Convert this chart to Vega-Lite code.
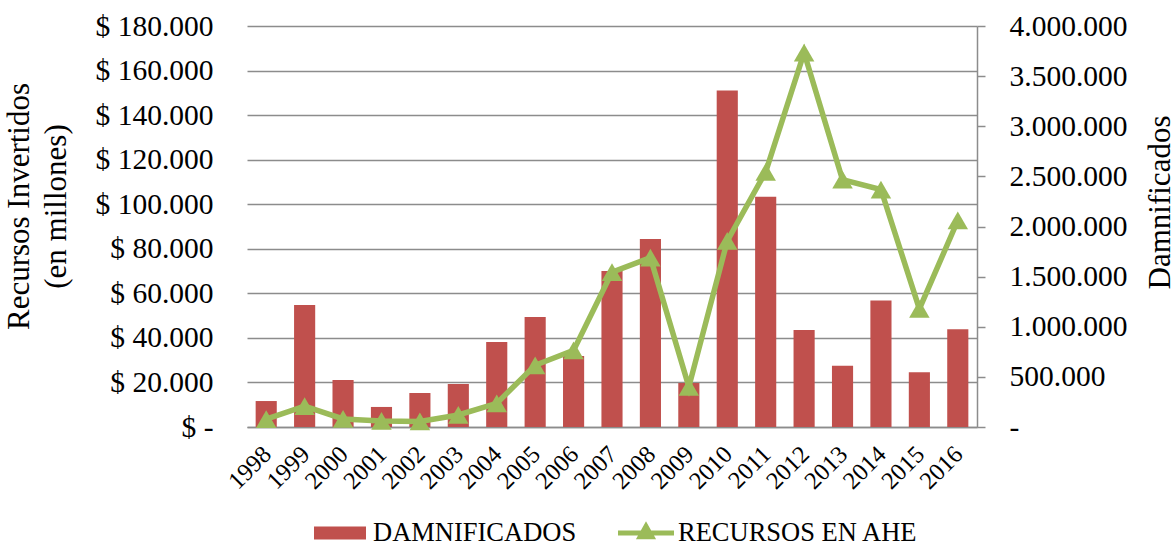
{
  "$schema": "https://vega.github.io/schema/vega-lite/v6.json",
  "width": 730,
  "height": 401,
  "autosize": {"type": "none"},
  "padding": {"left": 247, "top": 26, "right": 199, "bottom": 119},
  "background": "white",
  "config": {
    "view": {"stroke": null},
    "font": "Liberation Serif",
    "axis": {"labelFont": "Liberation Serif", "titleFont": "Liberation Serif", "labelColor": "black", "titleColor": "black", "titleFontWeight": "normal"},
    "legend": {"labelFont": "Liberation Serif", "labelColor": "black", "labelLimit": 0}
  },
  "data": {
    "values": [
      {"year": "1998", "damnificados": 259000, "recursos": 3500},
      {"year": "1999", "damnificados": 1217000, "recursos": 9400},
      {"year": "2000", "damnificados": 469000, "recursos": 3600},
      {"year": "2001", "damnificados": 200000, "recursos": 2700},
      {"year": "2002", "damnificados": 339000, "recursos": 2500},
      {"year": "2003", "damnificados": 429000, "recursos": 5400},
      {"year": "2004", "damnificados": 848000, "recursos": 10600},
      {"year": "2005", "damnificados": 1097000, "recursos": 27700},
      {"year": "2006", "damnificados": 708000, "recursos": 34400},
      {"year": "2007", "damnificados": 1556000, "recursos": 69500},
      {"year": "2008", "damnificados": 1875000, "recursos": 76000},
      {"year": "2009", "damnificados": 439000, "recursos": 18000},
      {"year": "2010", "damnificados": 3356000, "recursos": 83500},
      {"year": "2011", "damnificados": 2298000, "recursos": 114500},
      {"year": "2012", "damnificados": 968000, "recursos": 168000},
      {"year": "2013", "damnificados": 612000, "recursos": 111000},
      {"year": "2014", "damnificados": 1261000, "recursos": 106600},
      {"year": "2015", "damnificados": 546000, "recursos": 53000},
      {"year": "2016", "damnificados": 975000, "recursos": 92700}
    ]
  },
  "encoding": {
    "x": {
      "field": "year",
      "type": "ordinal",
      "title": null,
      "scale": {"paddingInner": 0.45, "paddingOuter": 0.225},
      "axis": {
        "labelAngle": -45,
        "labelAlign": "right",
        "labelBaseline": "top",
        "labelFontSize": 24.5,
        "labelPadding": 15,
        "labelOffset": -7,
        "ticks": false,
        "domainColor": "#8c8c8c",
        "domainWidth": 1.5,
        "grid": false
      }
    }
  },
  "layer": [
    {
      "mark": {"type": "bar", "color": "#C0504D"},
      "encoding": {
        "y": {
          "field": "damnificados",
          "type": "quantitative",
          "scale": {"domain": [0, 4000000]},
          "title": "Damnificados",
          "axis": {
            "orient": "right",
            "values": [0, 500000, 1000000, 1500000, 2000000, 2500000, 3000000, 3500000, 4000000],
            "labelExpr": "datum.value == 0 ? '-' : replace(format(datum.value, ','), regexp(',', 'g'), '.')",
            "labelFontSize": 29.5,
            "labelBaseline": "middle",
            "labelPadding": 24,
            "tickSize": 8,
            "tickColor": "#8c8c8c",
            "tickWidth": 1.5,
            "domainColor": "#8c8c8c",
            "domainWidth": 1.5,
            "grid": false,
            "titleFontSize": 31,
            "titleAngle": 270,
            "titleBaseline": "middle",
            "titleAlign": "center",
            "titleX": 183,
            "titleY": 176
          }
        },
        "fill": {
          "datum": "DAMNIFICADOS",
          "type": "nominal",
          "scale": {"range": ["#C0504D"]},
          "legend": {
            "orient": "none",
            "legendX": 67,
            "legendY": 481,
            "title": null,
            "symbolType": "M-1,-0.25H1V0.25H-1Z",
            "symbolSize": 2704,
            "symbolStrokeWidth": 0,
            "labelFontSize": 26.5,
            "labelOffset": 7,
            "labelBaseline": "middle"
          }
        }
      }
    },
    {
      "mark": {"type": "line", "strokeWidth": 5.5, "color": "#9BBB59"},
      "encoding": {
        "y": {
          "field": "recursos",
          "type": "quantitative",
          "scale": {"domain": [0, 180000]},
          "title": ["Recursos Invertidos", "(en millones)"],
          "axis": {
            "orient": "left",
            "values": [0, 20000, 40000, 60000, 80000, 100000, 120000, 140000, 160000, 180000],
            "labelExpr": "datum.value == 0 ? '$ -\u00a0\u00a0' : '$ ' + replace(format(datum.value, ','), regexp(',', 'g'), '.')",
            "labelFontSize": 29.5,
            "labelBaseline": "middle",
            "labelPadding": 34,
            "ticks": false,
            "tickSize": 0,
            "domain": false,
            "grid": true,
            "gridColor": "#8c8c8c",
            "gridWidth": 1.5,
            "titleFontSize": 31,
            "titleAngle": -90,
            "titleBaseline": "middle",
            "titleAlign": "center",
            "titleLineHeight": 37,
            "titleX": -228,
            "titleY": 180
          }
        },
        "stroke": {
          "datum": "RECURSOS EN AHE",
          "type": "nominal",
          "scale": {"range": ["#9BBB59"]},
          "legend": {
            "orient": "none",
            "legendX": 371,
            "legendY": 479,
            "title": null,
            "symbolType": "M-1,-0.09H1V0.09H-1Z M0,-0.42L0.36,0.22H-0.36Z",
            "symbolSize": 3136,
            "symbolFillColor": "#9BBB59",
            "symbolStrokeWidth": 0,
            "labelFontSize": 26.5,
            "labelOffset": 4,
            "labelBaseline": "middle"
          }
        }
      }
    },
    {
      "mark": {"type": "point", "shape": "triangle-up", "filled": true, "size": 420, "color": "#9BBB59", "opacity": 1},
      "encoding": {
        "y": {
          "field": "recursos",
          "type": "quantitative",
          "scale": {"domain": [0, 180000]},
          "axis": null
        }
      }
    }
  ],
  "resolve": {"scale": {"y": "independent"}}
}
